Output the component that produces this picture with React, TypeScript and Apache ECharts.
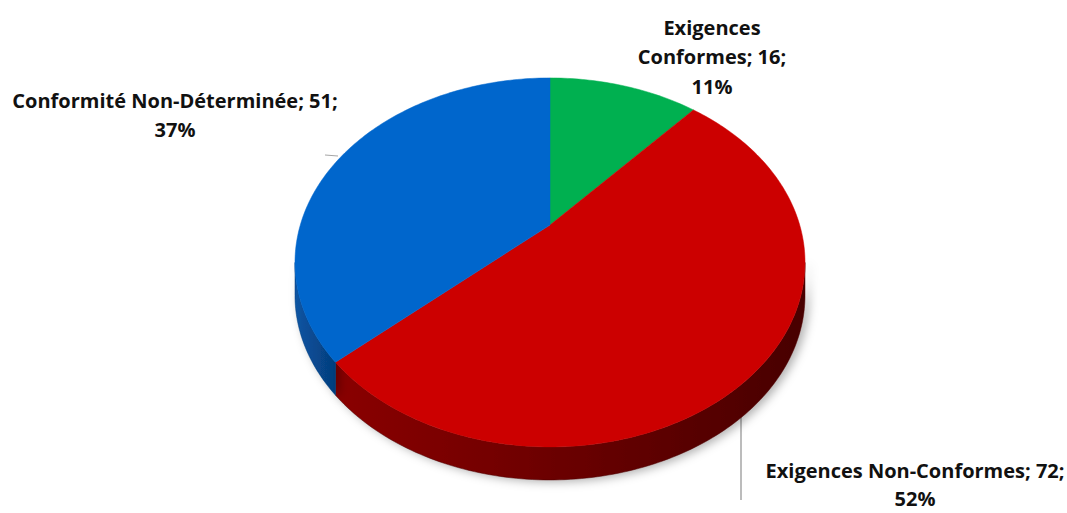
import React, { useEffect, useRef } from "react";
import * as echarts from "echarts";

const categories = ["Exigences Conformes", "Exigences Non-Conformes", "Conformité Non-Déterminée"];
const values = [16, 72, 51];
const percentLabels = ["11%", "52%", "37%"];

const topColors = ["#00B050", "#CC0000", "#0066CC"];
const sideColors = [
  ["#007a38", "#005528"],
  ["#8a0000", "#480000"],
  ["#0a55a3", "#053d7c"],
];

// label lines (text from data) and layout positions
const labelLines = [
  ["Exigences", "Conformes; " + values[0] + ";", percentLabels[0]],
  ["Exigences Non-Conformes; " + values[1] + ";", percentLabels[1]],
  ["Conformité Non-Déterminée; " + values[2] + ";", percentLabels[2]],
];
const labelPos = [
  [712, 27],
  [915, 470],
  [175, 100],
];
const labelGap = [29.5, 28, 29.5];

// projection parameters (perspective tilted disc)
const CX = 550;
const CY = 225;
const A = 249.7;
const B = 176.9;
const K = 0.203;
const H = 33;

function proj(theta: number, dy = 0): number[] {
  const u = Math.sin(theta);
  const v = Math.cos(theta);
  const den = 1 + K * v;
  return [CX + (A * u) / den, CY - (B * v) / den + dy];
}

const total = values.reduce((a, b) => a + b, 0);
const starts: number[] = [];
{
  let acc = 0;
  for (const v of values) {
    starts.push((acc / total) * Math.PI * 2);
    acc += v;
  }
}

function arcPoints(a0: number, a1: number, dy = 0): number[][] {
  const pts: number[][] = [];
  const n = Math.max(2, Math.ceil(((a1 - a0) * 180) / Math.PI));
  for (let i = 0; i <= n; i++) pts.push(proj(a0 + ((a1 - a0) * i) / n, dy));
  return pts;
}

const FRONT0 = Math.acos(-K);
const FRONT1 = Math.PI * 2 - Math.acos(-K);

export default function App() {
  const ref = useRef<HTMLDivElement>(null);
  useEffect(() => {
    if (!ref.current) return;
    const chart = echarts.init(ref.current, null, { renderer: "svg" });
    const data = categories.map((c, i) => ({ name: c, value: values[i] }));
    chart.setOption({
      animation: false,
      backgroundColor: "#ffffff",
      series: [
        {
          type: "custom",
          coordinateSystem: "none",
          z: 1,
          data,
          renderItem: (params: any, api: any) => {
            const i = params.dataIndex;
            const v = api.value(0);
            const a0 = starts[i];
            const a1 = a0 + (v / total) * Math.PI * 2;
            const s = Math.max(a0, FRONT0);
            const e = Math.min(a1, FRONT1);
            if (e <= s) return { type: "group", children: [] };
            const top = arcPoints(s, e, 0);
            const bot = arcPoints(s, e, H).reverse();
            return {
              type: "polygon",
              shape: { points: top.concat(bot) },
              style: {
                fill: new echarts.graphic.LinearGradient(0, 0, 1, 0, [
                  { offset: 0, color: sideColors[i][0] },
                  { offset: 1, color: sideColors[i][1] },
                ]),
                stroke: sideColors[i][1],
                lineWidth: 0.5,
                shadowBlur: 10,
                shadowColor: "rgba(0,0,0,0.3)",
                shadowOffsetX: 4,
                shadowOffsetY: 2,
              },
            };
          },
        },
        {
          type: "custom",
          coordinateSystem: "none",
          z: 2,
          data,
          renderItem: (params: any, api: any) => {
            const i = params.dataIndex;
            const v = api.value(0);
            const a0 = starts[i];
            const a1 = a0 + (v / total) * Math.PI * 2;
            const pts = [[CX, CY]].concat(arcPoints(a0, a1, 0));
            const children: any[] = [
              {
                type: "polygon",
                shape: { points: pts },
                style: { fill: topColors[i], stroke: topColors[i], lineWidth: 0.5 },
              },
            ];
            labelLines[i].forEach((line, j) => {
              children.push({
                type: "text",
                x: labelPos[i][0],
                y: labelPos[i][1] + j * labelGap[i],
                style: {
                  text: line,
                  fill: "#111111",
                  font: "bold 20px 'Open Sans', Lato, sans-serif",
                  lineHeight: 22,
                  align: "center",
                  verticalAlign: "middle",
                },
              });
            });
            return { type: "group", children };
          },
        },
      ],
      graphic: [
        {
          type: "line",
          shape: { x1: 325, y1: 155, x2: 338, y2: 156 },
          style: { stroke: "#a6a6a6", lineWidth: 1 },
        },
        {
          type: "line",
          shape: { x1: 741, y1: 406, x2: 741, y2: 500 },
          style: { stroke: "#a6a6a6", lineWidth: 1.5 },
        },
      ],
    });
    return () => chart.dispose();
  }, []);
  return <div ref={ref} style={{ width: 1067, height: 513, position: "absolute", left: 0, top: 0 }} />;
}
